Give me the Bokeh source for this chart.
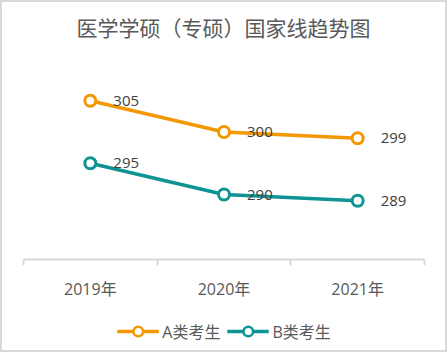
from bokeh.plotting import figure
from bokeh.layouts import column
from bokeh.models import (ColumnDataSource, Range1d, FixedTicker, Legend, LegendItem, Div)
from bokeh.core.properties import value
from bokeh.embed import file_html
from bokeh.resources import INLINE

title = "医学学硕（专硕）国家线趋势图"
years = ["2019年", "2020年", "2021年"]
series_names = ["A类考生", "B类考生"]
a_values = [305, 300, 299]
b_values = [295, 290, 289]
colors = ["#F39800", "#0E9494"]

xs = [i + 0.5 for i in range(len(years))]
FONT = "'Open Sans', 'Noto Sans CJK SC', sans-serif"

head = Div(text=title, width=443, height=50, margin=(0, 0, 0, 0),
           styles={"font-family": "'Noto Sans CJK SC', sans-serif", "font-size": "21px",
                   "color": "#595959", "text-align": "center", "line-height": "50px",
                   "background-color": "white"})

p = figure(width=443, height=260, output_backend="svg", toolbar_location=None,
           x_range=Range1d(0, len(years)), y_range=Range1d(279.6, 310),
           min_border_left=21, min_border_right=21, min_border_top=17, min_border_bottom=53,
           y_axis_location=None)
p.outline_line_color = None
p.grid.visible = False
p.background_fill_color = "white"
p.border_fill_color = "white"

ax = p.xaxis[0]
ax.ticker = FixedTicker(ticks=xs, minor_ticks=list(range(len(years) + 1)))
ax.major_label_overrides = {x: y for x, y in zip(xs, years)}
ax.major_tick_line_color = None
ax.major_tick_out = 0
ax.major_tick_in = 0
ax.minor_tick_line_color = "#D9D9D9"
ax.minor_tick_line_width = 2
ax.minor_tick_out = 6
ax.minor_tick_in = 0
ax.axis_line_color = "#D9D9D9"
ax.axis_line_width = 2
ax.major_label_text_font = FONT
ax.major_label_text_font_size = "16px"
ax.major_label_text_color = "#595959"
ax.major_label_standoff = 12

# legend-only strip below the chart
q = figure(width=443, height=38, output_backend="svg", toolbar_location=None,
           x_range=Range1d(0, 1), y_range=Range1d(0, 1),
           min_border=0, x_axis_location=None, y_axis_location=None)
q.outline_line_color = None
q.grid.visible = False
q.border_fill_color = "white"
q.background_fill_color = "white"

items = []
for name, vals, col in zip(series_names, [a_values, b_values], colors):
    src = ColumnDataSource(dict(x=xs, y=vals, t=[str(v) for v in vals]))
    p.line("x", "y", source=src, line_color=col, line_width=3.5)
    p.scatter("x", "y", source=src, size=11, fill_color="white",
              line_color=col, line_width=3)
    p.text("x", "y", text="t", source=src, x_offset=23, text_baseline="middle",
           text_font=value(FONT), text_font_size="15px", text_color="#404040")
    # proxies placed outside the visible range, used only for the legend glyphs
    proxy = ColumnDataSource(dict(x=[-10, -11], y=[-10, -10]))
    ln = q.line("x", "y", source=proxy, line_color=col, line_width=3.5)
    cr = q.scatter("x", "y", source=proxy, size=9, fill_color="white",
                   line_color=col, line_width=2.5)
    items.append(LegendItem(label=name, renderers=[ln, cr]))

legend = Legend(items=items, orientation="horizontal", location="center",
                glyph_width=42, glyph_height=24, label_standoff=4, spacing=6,
                padding=0, margin=0, border_line_color=None, background_fill_alpha=0,
                label_text_font=FONT, label_text_font_size="16px",
                label_text_color="#595959")
q.add_layout(legend, "center")

layout = column(head, p, q, spacing=0,
                styles={"border": "2px solid #D9D9D9", "background-color": "white"})

open("out.html", "w").write(file_html(layout, INLINE))
